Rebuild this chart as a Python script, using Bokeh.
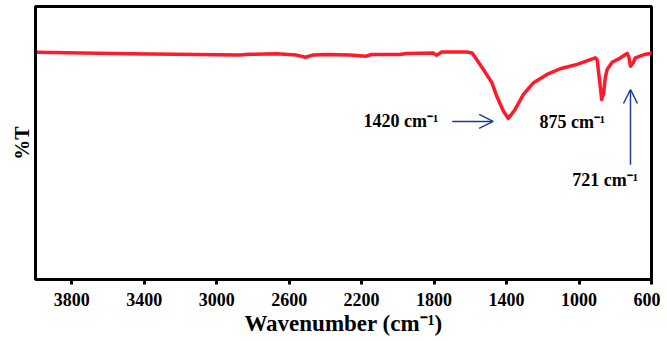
from bokeh.plotting import figure
from bokeh.models import Label, Arrow, OpenHead, FixedTicker, Range1d
from bokeh.embed import file_html
from bokeh.resources import INLINE

# Spectrum (wavenumber in cm-1, arbitrary %T scale 0-100)
wavenumber = [4000, 3480, 2870, 2820, 2670, 2560, 2510, 2470, 2390, 2265,
              2175, 2145, 1990, 1950, 1805, 1786, 1758, 1620, 1590, 1565,
              1528, 1481, 1454, 1417, 1390, 1353, 1307, 1251, 1177, 1104,
              1011, 910, 900, 885, 875, 865, 855, 845, 817, 781,
              744, 734, 725, 716, 701, 689, 640, 606, 600]
transmittance = [83.2, 82.7, 82.2, 82.5, 82.7, 82.2, 81.4, 82.2, 82.4, 82.2,
                 81.8, 82.4, 82.4, 82.8, 83.0, 82.1, 83.3, 83.3, 83.0, 80.6,
                 76.9, 72.1, 67.1, 61.6, 59.0, 62.3, 67.8, 72.1, 75.1, 77.2,
                 78.8, 81.2, 80.5, 72.0, 65.9, 68.0, 74.0, 76.9, 79.6, 80.8,
                 82.4, 82.8, 81.5, 78.1, 79.4, 81.2, 82.4, 82.8, 83.0]

x_ticks = [3800, 3400, 3000, 2600, 2200, 1800, 1400, 1000, 600]

peak_labels = ["1420 cm\u207b\u00b9", "875 cm\u207b\u00b9", "721 cm\u207b\u00b9"]

FONT = "Liberation Serif"
RED = "#ff1a2b"
BLUE = "#1f3a96"

p = figure(width=660, height=338, output_backend="svg", toolbar_location=None,
           x_range=Range1d(4000, 600), y_range=Range1d(0, 100),
           min_border_top=6, min_border_left=35, min_border_right=9,
           min_border_bottom=59)

p.line(wavenumber, transmittance, line_color=RED, line_width=3.5,
       line_join="round", line_cap="round")

p.xgrid.visible = False
p.ygrid.visible = False
p.outline_line_color = "black"
p.outline_line_width = 3
p.background_fill_color = "white"
p.border_fill_color = "white"

xa = p.xaxis[0]
xa.ticker = FixedTicker(ticks=x_ticks)
xa.axis_line_width = 3
xa.axis_line_color = "black"
xa.major_tick_out = 5
xa.major_tick_in = 0
xa.major_tick_line_width = 3
xa.minor_tick_line_color = None
xa.major_label_text_font = FONT
xa.major_label_text_font_style = "bold"
xa.major_label_text_font_size = "18px"
xa.major_label_text_color = "black"
xa.major_label_standoff = 8
xa.axis_label = "Wavenumber (cm\u207b\u00b9)"
xa.axis_label_text_font = FONT
xa.axis_label_text_font_style = "bold"
xa.axis_label_text_font_size = "23px"
xa.axis_label_text_color = "black"
xa.axis_label_standoff = 2

ya = p.yaxis[0]
ya.axis_line_width = 3
ya.axis_line_color = "black"
ya.major_tick_line_color = None
ya.minor_tick_line_color = None
ya.major_label_text_font_size = "0px"
ya.major_label_text_color = None
ya.axis_label = "%T"
ya.axis_label_text_font = FONT
ya.axis_label_text_font_style = "bold"
ya.axis_label_text_font_size = "20px"
ya.axis_label_text_color = "black"
ya.axis_label_standoff = -3

for txt, x, y in zip(peak_labels, [1983, 1037, 855], [57.9, 57.6, 36.6]):
    p.add_layout(Label(x=x, y=y, text=txt, text_align="center",
                       text_baseline="middle", text_font=FONT,
                       text_font_style="bold", text_font_size="18px",
                       text_color="black"))

p.add_layout(Arrow(x_start=1700, y_start=57.9, x_end=1474, y_end=57.9,
                   line_color=BLUE, line_width=1.5,
                   end=OpenHead(size=14, line_color=BLUE, line_width=1.5)))
p.add_layout(Arrow(x_start=716, y_start=42.0, x_end=716, y_end=69.6,
                   line_color=BLUE, line_width=1.5,
                   end=OpenHead(size=14, line_color=BLUE, line_width=1.5)))

open("out.html", "w").write(file_html(p, INLINE))
